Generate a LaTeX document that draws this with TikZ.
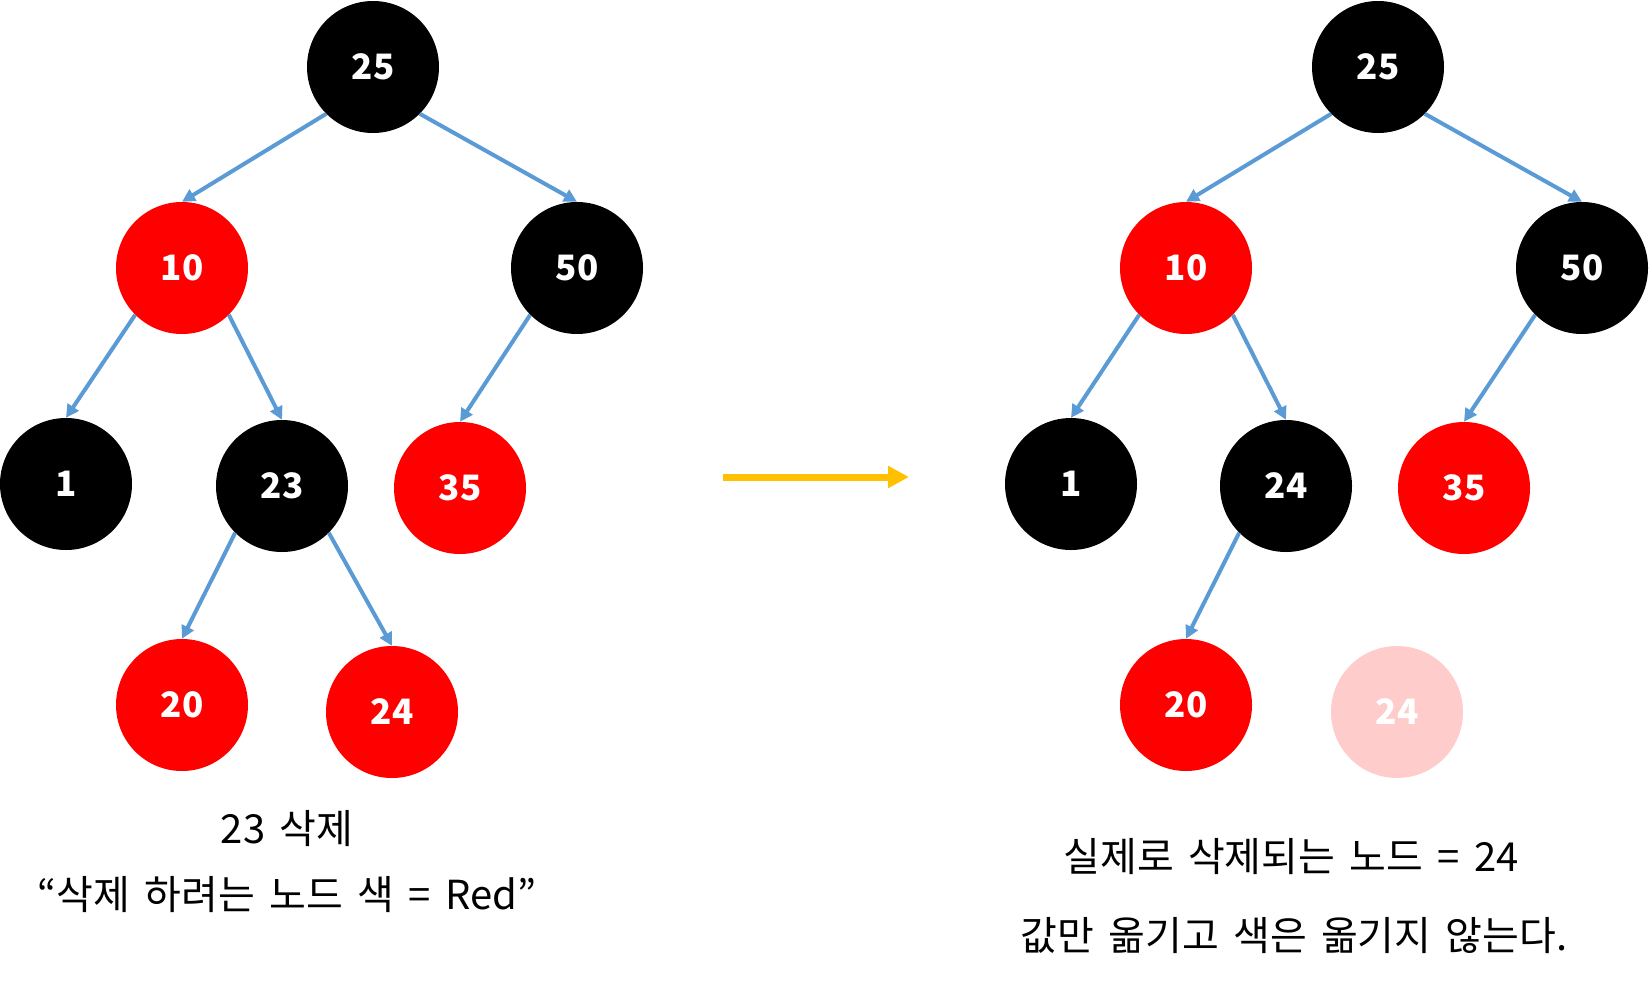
\documentclass[tikz,border=0pt]{standalone}
\usepackage{fontspec}
\setmainfont{Noto Sans CJK KR}
\newfontfamily\capfont{Noto Sans CJK KR}[WordSpace=1.6]
\usepackage{xcolor}
\definecolor{edgeBlue}{HTML}{5B9BD5}
\definecolor{arrOrange}{HTML}{FFC000}
\colorlet{nodeRed}{red}
\colorlet{nodeFaded}{red!20}
\usetikzlibrary{arrows.meta, positioning}
\tikzset{
	rbnode/.style={circle, minimum size=132pt, inner sep=0pt, font=\fontsize{35}{40}\selectfont\bfseries, text=white, fill=#1},
	treeedge/.style={-{Triangle[length=13pt, width=13pt]}, line width=4pt, edgeBlue},
	steparr/.style={-{Triangle[length=21pt, width=21pt]}, line width=7pt, arrOrange},
	caption/.style={font=\capfont\fontsize{40}{46}\selectfont, text=black},
}
\begin{document}
\begin{tikzpicture}[x=1pt, y=-1pt]
	\useasboundingbox (0,0) rectangle (1649,985);

	% Left tree (before deletion)
	\node[rbnode=black] (l25) at (373,67) {25};
	\node[rbnode=nodeRed] (l10) at (182,268) {10};
	\node[rbnode=black] (l50) at (577,268) {50};
	\node[rbnode=black] (l1) at (66,484) {1};
	\node[rbnode=black] (l23) at (282,486) {23};
	\node[rbnode=nodeRed] (l35) at (460,488) {35};
	\node[rbnode=nodeRed] (l20) at (182,705) {20};
	\node[rbnode=nodeRed] (l24) at (392,712) {24};

	\draw[treeedge] (l25.225) -- (l10.north);
	\draw[treeedge] (l25.315) -- (l50.north);
	\draw[treeedge] (l10.225) -- (l1.north);
	\draw[treeedge] (l10.315) -- (l23.north);
	\draw[treeedge] (l50.225) -- (l35.north);
	\draw[treeedge] (l23.225) -- (l20.north);
	\draw[treeedge] (l23.315) -- (l24.north);

	\node[caption] (lcap1) at (287,829) {23 삭제};
	\node[caption] (lcap2) at (287,895) {“삭제 하려는 노드 색 = Red”};

	% Step arrow
	\coordinate (arrS) at (723,477);
	\coordinate (arrE) at (909,477);
	\draw[steparr] (arrS) -- (arrE);

	% Right tree (after deletion)
	\node[rbnode=black] (r25) at (1378,67) {25};
	\node[rbnode=nodeRed] (r10) at (1186,268) {10};
	\node[rbnode=black] (r50) at (1582,268) {50};
	\node[rbnode=black] (r1) at (1071,484) {1};
	\node[rbnode=black] (r24) at (1286,486) {24};
	\node[rbnode=nodeRed] (r35) at (1464,488) {35};
	\node[rbnode=nodeRed] (r20) at (1186,705) {20};
	\node[rbnode=nodeFaded] (rgone) at (1397,712) {24};

	\draw[treeedge] (r25.225) -- (r10.north);
	\draw[treeedge] (r25.315) -- (r50.north);
	\draw[treeedge] (r10.225) -- (r1.north);
	\draw[treeedge] (r10.315) -- (r24.north);
	\draw[treeedge] (r50.225) -- (r35.north);
	\draw[treeedge] (r24.225) -- (r20.north);

	\node[caption] (rcap1) at (1291,857) {실제로 삭제되는 노드 = 24};
	\node[caption] (rcap2) at (1294,936) {값만 옮기고 색은 옮기지 않는다.};
\end{tikzpicture}
\end{document}
